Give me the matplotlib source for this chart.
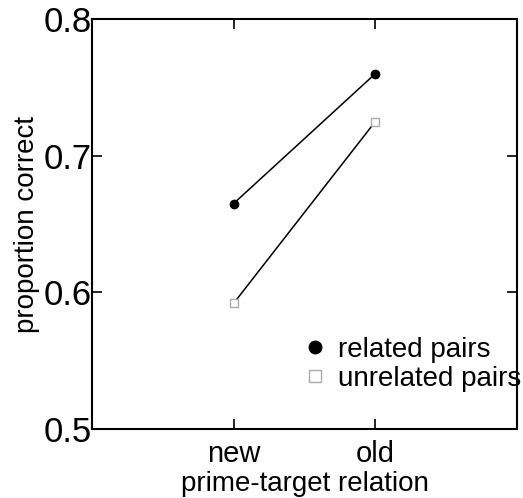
import matplotlib
matplotlib.use('Agg')
import matplotlib.pyplot as plt

plt.rcParams['font.family'] = ['Liberation Sans', 'DejaVu Sans']

# ---- data ----
relations = ['new', 'old']
related = [0.665, 0.760]
unrelated = [0.592, 0.725]
y_ticks = [0.5, 0.6, 0.7, 0.8]

fig = plt.figure(figsize=(5.23, 4.98), dpi=100)
ax = fig.add_axes([92 / 523, 1 - 429 / 498, 425 / 523, 410 / 498])

x = [1, 2]
ax.plot(x, related, color='black', linewidth=1.1, marker='o', markersize=6,
        markerfacecolor='black', markeredgecolor='black', label='related pairs')
ax.plot(x, unrelated, color='black', linewidth=1.1, marker='s', markersize=6,
        markerfacecolor='white', markeredgecolor='#aaaaaa', label='unrelated pairs')

ax.set_xlim(0, 3)
ax.set_ylim(0.5, 0.8)
ax.set_xticks(x)
ax.set_xticklabels(relations)
ax.set_yticks(y_ticks)
ax.set_yticklabels([f'{v:.1f}' for v in y_ticks])
ax.tick_params(direction='in', length=7, width=1.2, top=True, right=True,
               labelsize=25, pad=0)
ax.tick_params(axis='x', labelsize=21, pad=8)
for s in ax.spines.values():
    s.set_linewidth(1.5)

ax.set_xlabel('prime-target relation', fontsize=20, labelpad=2)
ax.set_ylabel('proportion correct', fontsize=20, labelpad=3)

leg = ax.legend(loc='upper left', bbox_to_anchor=(0.506, 0.224), frameon=False,
                fontsize=20, handlelength=0.6, handletextpad=0.5, markerscale=1.5,
                labelspacing=0.09, borderaxespad=0, borderpad=0)
for h in leg.legend_handles:
    h.set_linestyle('none')

fig.savefig('out.png', dpi=100, facecolor='white')
